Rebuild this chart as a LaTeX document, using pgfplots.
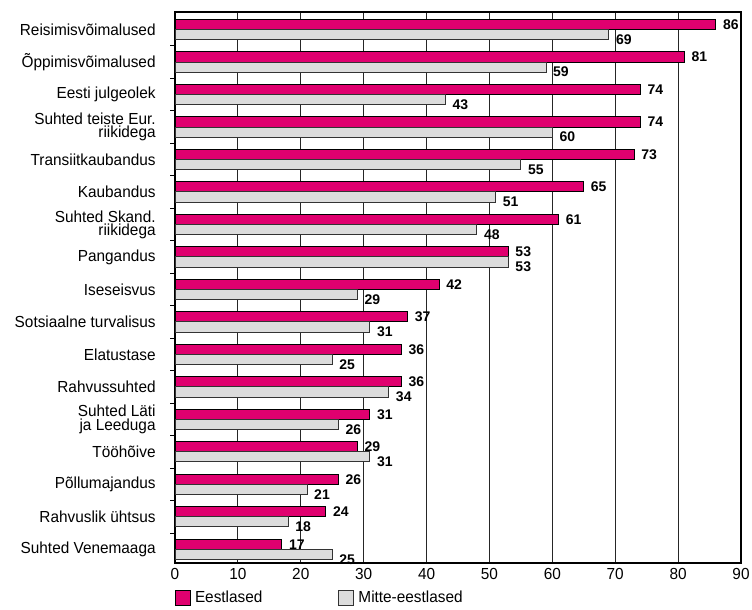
\documentclass[border=0pt]{standalone}
\usepackage{fontspec}
\setmainfont{Liberation Sans}[FakeStretch=0.96]
\newfontfamily\lblfont{Liberation Sans}
\usepackage{pgfplots}
\pgfplotsset{compat=1.18}
\definecolor{pinkbar}{HTML}{E0006F}
\definecolor{graybar}{HTML}{DCDCDC}
\begin{document}
\begin{tikzpicture}
\begin{axis}[
  scale only axis, width=283pt, height=275.5pt,
  xbar, clip=false,
  xmin=0, xmax=90, xtick={0,10,...,90},
  ymin=-0.54, ymax=16.42, y dir=reverse,
  ytick={0,...,16},
  yticklabels={Reisimisvõimalused,Õppimisvõimalused,Eesti julgeolek,{Suhted teiste Eur.\\riikidega},Transiitkaubandus,Kaubandus,{Suhted Skand.\\riikidega},Pangandus,Iseseisvus,Sotsiaalne turvalisus,Elatustase,Rahvussuhted,{Suhted Läti\\ja Leeduga},Tööhõive,Põllumajandus,Rahvuslik ühtsus,Suhted Venemaaga},
  minor ytick={0.5,1.5,...,15.5},
  major tick length=0pt, minor tick length=2.5pt, tick align=outside,
  ytick pos=left, xtick pos=bottom,
  xmajorgrids=true, ymajorgrids=false,
  major grid style={black!85, line width=0.5pt},
  minor tick style={black, line width=0.5pt},
  axis line style={black, line width=0.8pt},
  /pgf/number format/assume math mode=true,
  yticklabel style={font=\fontsize{8}{6.6}\selectfont, align=right, inner sep=0pt, xshift=-9.5pt},
  xticklabel style={font=\fontsize{8}{9}\selectfont, inner sep=0pt, yshift=-2.5pt},
  legend columns=2,
  legend cell align=left,
  legend image code/.code={\draw[#1] (0pt,-3.75pt) rectangle (7.5pt,3.75pt);},
  legend style={at={(axis description cs:0,0)}, anchor=north west, yshift=-12pt,
    draw=none, fill=none, inner sep=0pt, outer sep=0pt,
    font=\fontsize{8}{9}\selectfont,
    /tikz/every even column/.append style={column sep=36pt}},
]
\addplot[fill=pinkbar, draw=black, line width=0.5pt, bar width=0.31, bar shift=-0.155,
  nodes near coords, nodes near coords style={anchor=west, font=\lblfont\bfseries\fontsize{7}{8}\selectfont, black}]
  coordinates {(86,0) (81,1) (74,2) (74,3) (73,4) (65,5) (61,6) (53,7) (42,8) (37,9) (36,10) (36,11) (31,12) (29,13) (26,14) (24,15) (17,16)};
\addlegendentry{Eestlased}
\addplot[fill=graybar, draw=black!80, line width=0.5pt, bar width=0.31, bar shift=0.155,
  nodes near coords, nodes near coords style={anchor=west, yshift=-2.5pt, font=\lblfont\bfseries\fontsize{7}{8}\selectfont, black}]
  coordinates {(69,0) (59,1) (43,2) (60,3) (55,4) (51,5) (48,6) (53,7) (29,8) (31,9) (25,10) (34,11) (26,12) (31,13) (21,14) (18,15) (25,16)};
\addlegendentry{Mitte-eestlased}
\path (rel axis cs:0,0) ++(-87.5pt,-20pt) coordinate (bbA);
\path (rel axis cs:1,1) ++(5.5pt,6pt) coordinate (bbB);
\end{axis}
\path (bbA) rectangle (bbB);
\end{tikzpicture}
\end{document}
